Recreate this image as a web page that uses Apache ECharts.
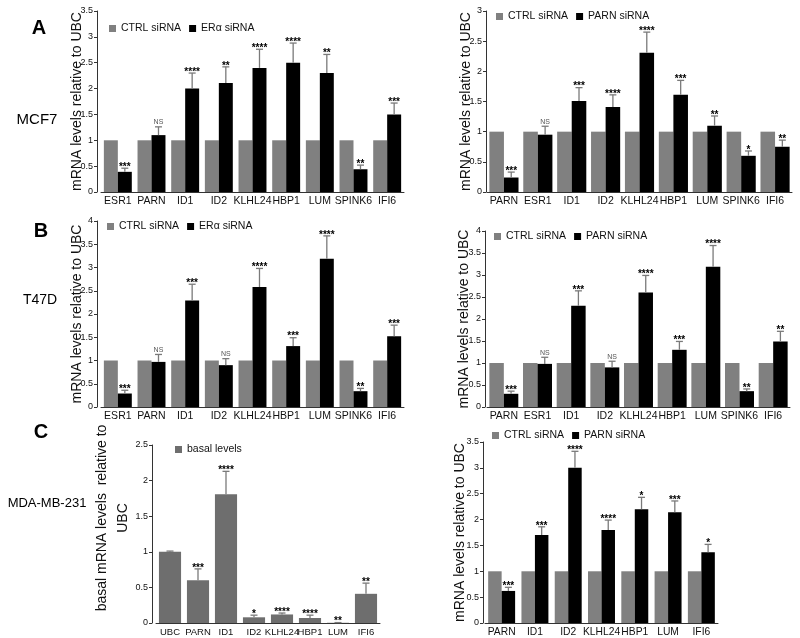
<!DOCTYPE html>
<html>
<head>
<meta charset="utf-8">
<script src="https://cdn.jsdelivr.net/npm/echarts@6/dist/echarts.min.js"></script>
<style>
  html, body { margin: 0; padding: 0; background: #fff; }
  #chart { width: 800px; height: 638px; }
</style>
</head>
<body>
<div id="chart"></div>
<script>
// ---- data ----
// A: MCF7, ERa knockdown
const catsA1 = ['ESR1', 'PARN', 'ID1', 'ID2', 'KLHL24', 'HBP1', 'LUM', 'SPINK6', 'IFI6'];
const ctrlA1 = [1, 1, 1, 1, 1, 1, 1, 1, 1];
const siA1 = [0.39, 1.10, 2.00, 2.11, 2.40, 2.50, 2.30, 0.44, 1.50];
const errA1 = [0.07, 0.16, 0.30, 0.31, 0.36, 0.38, 0.36, 0.08, 0.22];
const sigA1 = ['***', 'NS', '****', '**', '****', '****', '**', '**', '***'];

// A: MCF7, PARN knockdown
const catsA2 = ['PARN', 'ESR1', 'ID1', 'ID2', 'KLHL24', 'HBP1', 'LUM', 'SPINK6', 'IFI6'];
const ctrlA2 = [1, 1, 1, 1, 1, 1, 1, 1, 1];
const siA2 = [0.24, 0.95, 1.51, 1.41, 2.31, 1.61, 1.10, 0.60, 0.75];
const errA2 = [0.09, 0.14, 0.22, 0.20, 0.34, 0.24, 0.16, 0.08, 0.11];
const sigA2 = ['***', 'NS', '***', '****', '****', '***', '**', '*', '**'];

// B: T47D, ERa knockdown
const catsB1 = ['ESR1', 'PARN', 'ID1', 'ID2', 'KLHL24', 'HBP1', 'LUM', 'SPINK6', 'IFI6'];
const ctrlB1 = [1, 1, 1, 1, 1, 1, 1, 1, 1];
const siB1 = [0.29, 0.97, 2.29, 0.90, 2.58, 1.31, 3.19, 0.34, 1.52];
const errB1 = [0.07, 0.16, 0.35, 0.14, 0.40, 0.18, 0.49, 0.06, 0.24];
const sigB1 = ['***', 'NS', '***', 'NS', '****', '***', '****', '**', '***'];

// B: T47D, PARN knockdown
const catsB2 = ['PARN', 'ESR1', 'ID1', 'ID2', 'KLHL24', 'HBP1', 'LUM', 'SPINK6', 'IFI6'];
const ctrlB2 = [1, 1, 1, 1, 1, 1, 1, 1, 1];
const siB2 = [0.30, 0.98, 2.30, 0.90, 2.60, 1.30, 3.19, 0.36, 1.49];
const errB2 = [0.06, 0.15, 0.34, 0.14, 0.39, 0.19, 0.48, 0.05, 0.23];
const sigB2 = ['***', 'NS', '***', 'NS', '****', '***', '****', '**', '**'];

// C: MDA-MB-231 basal levels
const catsC1 = ['UBC', 'PARN', 'ID1', 'ID2', 'KLHL24', 'HBP1', 'LUM', 'IFI6'];
const basalC1 = [1.00, 0.60, 1.81, 0.08, 0.12, 0.07, 0.003, 0.41];
const errC1 = [0.01, 0.16, 0.32, 0.03, 0.02, 0.04, 0.003, 0.15];
const sigC1 = ['', '***', '****', '*', '****', '****', '**', '**'];

// C: MDA-MB-231, PARN knockdown
const catsC2 = ['PARN', 'ID1', 'ID2', 'KLHL24', 'HBP1', 'LUM', 'IFI6'];
const ctrlC2 = [1, 1, 1, 1, 1, 1, 1];
const siC2 = [0.62, 1.70, 3.00, 1.80, 2.20, 2.14, 1.37];
const errC2 = [0.07, 0.16, 0.32, 0.19, 0.23, 0.22, 0.15];
const sigC2 = ['***', '***', '****', '****', '*', '***', '*'];

// ---- layout (pixels) ----
const panels = [
  { cats: catsA1, ctrl: ctrlA1, si: siA1, err: errA1, sig: sigA1, siName: 'ERα siRNA',
    left: 101, top: 11, width: 303, height: 181, off: 4, max: 3.5, gap: 0.17, nameGap: 13,
    legLeft: 109, legTop: 23, xFont: 10.5 },
  { cats: catsA2, ctrl: ctrlA2, si: siA2, err: errA2, sig: sigA2, siName: 'PARN siRNA',
    left: 487, top: 11, width: 305, height: 181, off: 1, max: 3, gap: 0.14, nameGap: 13,
    legLeft: 496, legTop: 11, xFont: 10.5 },
  { cats: catsB1, ctrl: ctrlB1, si: siB1, err: errB1, sig: sigB1, siName: 'ERα siRNA',
    left: 101, top: 221, width: 303, height: 186, off: 4, max: 4, gap: 0.17, nameGap: 13,
    legLeft: 107, legTop: 221, xFont: 10.5 },
  { cats: catsB2, ctrl: ctrlB2, si: siB2, err: errB2, sig: sigB2, siName: 'PARN siRNA',
    left: 487, top: 231, width: 303, height: 176, off: 2, max: 4, gap: 0.14, nameGap: 14,
    legLeft: 494, legTop: 231, xFont: 10.5 },
  { cats: catsC1, ctrl: null, si: basalC1, err: errC1, sig: sigC1, siName: 'basal levels',
    left: 156, top: 445, width: 224, height: 178, off: 4, max: 2.5, gap: 0.21, nameGap: 18,
    legLeft: 175, legTop: 444, twoLine: true, xFont: 9.5 },
  { cats: catsC2, ctrl: ctrlC2, si: siC2, err: errC2, sig: sigC2, siName: 'PARN siRNA',
    left: 485, top: 442, width: 233, height: 181, off: 2, max: 3.5, gap: 0.19, nameGap: 16,
    legLeft: 492, legTop: 430, xFont: 10.3 }
];

const FONT = 'Arial, "Liberation Sans", sans-serif';
const grids = [], xAxes = [], yAxes = [], series = [], legends = [];

function errorBars(p, nBars) {
  return function (params, api) {
    const i = api.value(0);
    const v = api.value(1);
    const e = api.value(2);
    const band = api.size([1, 0])[0];
    const barW = band * (1 - p.gap) / nBars;
    const base = api.coord([i, v]);
    const top = api.coord([i, v + e]);
    const cx = base[0] + (nBars === 2 ? barW / 2 : 0);
    const s = p.sig[params.dataIndex];
    const isNS = s === 'NS';
    return {
      type: 'group',
      children: [
        { type: 'line', shape: { x1: cx, y1: base[1], x2: cx, y2: top[1] },
          style: { stroke: '#7a7a7a', lineWidth: 1.3 } },
        { type: 'line', shape: { x1: cx - 3.5, y1: top[1], x2: cx + 3.5, y2: top[1] },
          style: { stroke: '#7a7a7a', lineWidth: 1.3 } },
        { type: 'text', x: cx, y: isNS ? top[1] - 1 : top[1] + 4,
          style: { text: s, align: 'center', verticalAlign: 'bottom',
            fill: isNS ? '#555' : '#000',
            font: isNS ? '7px ' + FONT : 'bold 10px ' + FONT } }
      ]
    };
  };
}

panels.forEach(function (p, k) {
  grids.push({ left: p.left, top: p.top, width: p.width, height: p.height,
    containLabel: false, outerBoundsMode: 'none' });
  xAxes.push({
    type: 'category', gridIndex: k, data: p.cats,
    axisLine: { lineStyle: { color: '#333', width: 1 } },
    axisTick: { show: false },
    axisLabel: { interval: 0, fontSize: p.xFont, color: '#111', margin: 4, fontFamily: FONT }
  });
  yAxes.push({
    type: 'value', gridIndex: k, min: 0, max: p.max, interval: 0.5, offset: p.off,
    name: p.twoLine ? 'basal mRNA levels  relative to\nUBC' : 'mRNA levels relative to UBC',
    nameLocation: 'middle', nameGap: p.nameGap, nameMoveOverlap: false,
    nameTextStyle: p.twoLine
      ? { fontSize: 14, color: '#111', fontFamily: FONT, lineHeight: 21, padding: [0, 0, 0, 32] }
      : { fontSize: 14, color: '#111', fontFamily: FONT },
    axisLine: { show: true, lineStyle: { color: '#333', width: 1 } },
    axisTick: { show: true, length: 3, lineStyle: { color: '#333' } },
    axisLabel: { fontSize: 9, color: '#111', margin: 4, fontFamily: FONT },
    splitLine: { show: false }
  });
  const gapPct = Math.round(p.gap * 100) + '%';
  const nBars = p.ctrl ? 2 : 1;
  if (p.ctrl) {
    series.push({ type: 'bar', name: 'CTRL siRNA', xAxisIndex: k, yAxisIndex: k,
      data: p.ctrl, itemStyle: { color: '#808080' }, barGap: '0%', barCategoryGap: gapPct,
      silent: true });
  }
  series.push({ type: 'bar', name: p.siName, xAxisIndex: k, yAxisIndex: k,
    data: p.si, itemStyle: { color: p.ctrl ? '#000' : '#6e6e6e' }, barGap: '0%',
    barCategoryGap: gapPct, silent: true });
  series.push({ type: 'custom', xAxisIndex: k, yAxisIndex: k, silent: true, z: 5,
    data: p.si.map(function (v, i) { return [i, v, p.err[i]]; }),
    renderItem: errorBars(p, nBars) });
  legends.push({
    left: p.legLeft, top: p.legTop, padding: 0, itemGap: 8, icon: 'rect',
    itemWidth: 7, itemHeight: 7, selectedMode: false,
    data: p.ctrl ? ['CTRL siRNA', p.siName] : [p.siName],
    textStyle: { fontSize: 10.5, color: '#111', fontFamily: FONT }
  });
});

function label(text, x, y, size, bold) {
  return { type: 'text', x: x, y: y,
    style: { text: text, align: 'center', verticalAlign: 'middle',
      textAlign: 'center', textVerticalAlign: 'middle',
      font: (bold ? 'bold ' : '') + size + 'px ' + FONT, fill: '#000' } };
}

const chart = echarts.init(document.getElementById('chart'), null, { renderer: 'canvas' });
chart.setOption({
  backgroundColor: '#fff',
  animation: false,
  color: ['#808080', '#000'],
  grid: grids,
  xAxis: xAxes,
  yAxis: yAxes,
  legend: legends,
  series: series,
  graphic: [
    label('A', 39, 28, 20, true),
    label('B', 41, 231, 20, true),
    label('C', 41, 432, 20, true),
    label('MCF7', 37, 120, 15, false),
    label('T47D', 40, 300, 14, false),
    label('MDA-MB-231', 47, 503, 13, false)
  ]
});
</script>
</body>
</html>
